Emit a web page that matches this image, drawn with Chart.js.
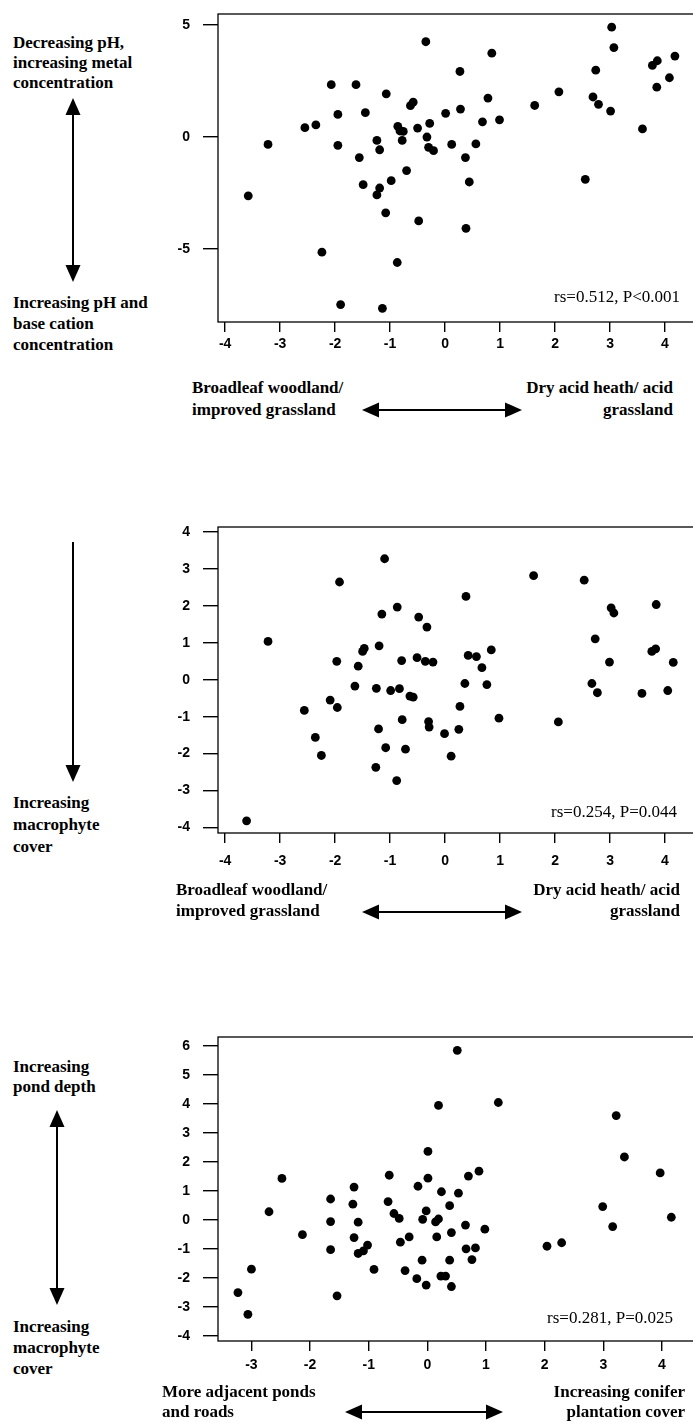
<!DOCTYPE html>
<html>
<head>
<meta charset="utf-8">
<script src="https://cdn.jsdelivr.net/npm/chart.js@4"></script>
<style>
  html, body { margin:0; padding:0; background:#fff; }
  body { width:693px; height:1423px; overflow:hidden; position:relative; }
  canvas { position:absolute; }
  .t { position:absolute; font-family:'Liberation Serif', serif; font-size:17px; line-height:20px; white-space:nowrap; color:#000; font-weight:bold; }
  .s { font-weight:normal; }
  .r { text-align:right; }
  svg { position:absolute; left:0; top:0; }
</style>
</head>
<body>
<script>
// ---------------- DATA ----------------
// Plot 1
const x1 = [-3.58,-3.22,-2.55,-2.35,-2.24,-2.07,-1.95,-1.95,-1.90,-1.62,-1.45,-1.56,-1.49,-1.24,-1.19,-1.19,-1.24,-1.14,-1.07,-1.08,-0.98,-0.86,-0.82,-0.76,-0.78,-0.87,-0.70,-0.63,-0.58,-0.50,-0.48,-0.35,-0.33,-0.28,-0.30,-0.21,0.01,0.12,0.27,0.28,0.37,0.44,0.38,0.56,0.68,0.78,0.85,0.99,1.63,2.07,2.55,2.69,2.74,2.79,3.01,3.03,3.07,3.59,3.77,3.86,3.85,4.08,4.18];
const y1 = [-2.63,-0.33,0.42,0.54,-5.15,2.34,1.01,-0.37,-7.49,2.34,1.09,-0.92,-2.13,-0.15,-0.57,-2.28,-2.59,-7.66,1.93,-3.39,-1.95,0.48,0.27,0.25,-0.15,-5.61,-1.50,1.40,1.56,0.40,-3.75,4.26,0.00,0.61,-0.46,-0.61,1.06,-0.33,2.93,1.25,-0.92,-2.01,-4.08,-0.31,0.68,1.74,3.75,0.77,1.41,2.02,-1.89,1.79,2.99,1.46,1.16,4.91,4.00,0.36,3.20,3.41,2.23,2.65,3.62];
// Plot 2
const x2 = [-3.61,-3.22,-2.56,-2.36,-2.25,-2.09,-1.96,-1.97,-1.92,-1.64,-1.58,-1.50,-1.47,-1.25,-1.21,-1.26,-1.20,-1.15,-1.10,-1.08,-0.99,-0.87,-0.88,-0.83,-0.79,-0.78,-0.72,-0.64,-0.58,-0.51,-0.48,-0.36,-0.33,-0.30,-0.29,-0.22,-0.01,0.11,0.25,0.27,0.36,0.38,0.42,0.57,0.67,0.76,0.84,0.98,1.61,2.06,2.53,2.67,2.73,2.77,2.99,3.02,3.07,3.58,3.76,3.83,3.84,4.05,4.15];
const y2 = [-3.82,1.04,-0.83,-1.56,-2.05,-0.55,-0.75,0.50,2.65,-0.17,0.37,0.77,0.85,-0.23,-1.33,-2.37,0.92,1.78,3.28,-1.84,-0.29,1.97,-2.73,-0.24,0.52,-1.08,-1.88,-0.44,-0.47,0.60,1.70,0.50,1.43,-1.13,-1.28,0.48,-1.46,-2.07,-1.34,-0.72,-0.10,2.26,0.66,0.63,0.33,-0.13,0.81,-1.04,2.82,-1.14,2.70,-0.10,1.11,-0.35,0.48,1.95,1.81,-0.37,0.77,0.84,2.04,-0.29,0.47];
// Plot 3
const x3 = [-3.23,-3.06,-3.00,-2.70,-2.48,-2.13,-1.65,-1.65,-1.65,-1.54,-1.25,-1.27,-1.18,-1.25,-1.18,-1.09,-1.02,-0.91,-0.65,-0.67,-0.57,-0.48,-0.46,-0.38,-0.31,-0.16,-0.18,-0.09,-0.08,-0.02,-0.02,0.01,0.01,0.14,0.19,0.16,0.19,0.24,0.23,0.31,0.38,0.38,0.41,0.41,0.51,0.53,0.65,0.66,0.70,0.76,0.82,0.88,0.98,1.21,2.04,2.29,2.99,3.16,3.22,3.36,3.97,4.16];
const y3 = [-2.51,-3.26,-1.70,0.28,1.43,-0.51,0.72,-0.06,-1.03,-2.62,1.13,0.54,-0.08,-0.61,-1.16,-1.07,-0.87,-1.71,1.54,0.63,0.22,0.05,-0.77,-1.75,-0.59,1.16,-2.03,-1.39,0.02,0.31,-2.25,2.36,1.44,-0.07,0.03,-0.59,3.95,0.97,-1.94,-1.94,0.49,-1.39,-0.44,-2.30,5.85,0.92,-0.18,-1.00,1.51,-1.37,-0.97,1.68,-0.32,4.05,-0.91,-0.79,0.46,-0.23,3.60,2.17,1.62,0.09];

// Tick labels
const xTicks1 = [-4,-3,-2,-1,0,1,2,3,4];
const yTicks1 = [-5,0,5];
const xTicks2 = [-4,-3,-2,-1,0,1,2,3,4];
const yTicks2 = [-4,-3,-2,-1,0,1,2,3,4];
const xTicks3 = [-3,-2,-1,0,1,2,3,4];
const yTicks3 = [-4,-3,-2,-1,0,1,2,3,4,5,6];

// Statistics text
const stats1 = 'rs=0.512, P<0.001';
const stats2 = 'rs=0.254, P=0.044';
const stats3 = 'rs=0.281, P=0.025';

// ---------------- CHARTS ----------------
Chart.defaults.font.family = "'Liberation Sans', Arial, sans-serif";
Chart.defaults.color = '#000';

const framePlugin = {
  id: 'frame',
  afterDraw(chart) {
    const a = chart.chartArea, c = chart.ctx;
    c.save();
    c.strokeStyle = '#000';
    c.lineWidth = 1.3;
    c.strokeRect(a.left, a.top, a.right - a.left, a.bottom - a.top);
    c.restore();
  }
};

const PAD_TOP = 25, PAD_RIGHT = 6, YW = 60, XH = 50;
const AREA_LEFT = 218, AREA_RIGHT = 720;

function makeChart(xs, ys, xTicks, yTicks, lim, frameTop, frameBottom, xPad) {
  const cv = document.createElement('canvas');
  const left = AREA_LEFT - YW;
  const w = AREA_RIGHT - left + PAD_RIGHT;
  const h = PAD_TOP + (frameBottom - frameTop) + XH;
  cv.style.left = left + 'px';
  cv.style.top = (frameTop - PAD_TOP) + 'px';
  cv.style.width = w + 'px';
  cv.style.height = h + 'px';
  cv.width = w; cv.height = h;
  document.body.appendChild(cv);
  const pts = xs.map((x, i) => ({ x: x, y: ys[i] }));
  new Chart(cv, {
    type: 'scatter',
    data: { datasets: [{ data: pts, backgroundColor: '#000', borderWidth: 0, pointRadius: 4.4, pointHoverRadius: 4.4 }] },
    options: {
      responsive: false,
      animation: false,
      events: [],
      devicePixelRatio: 1,
      layout: { autoPadding: false, padding: { top: PAD_TOP, right: PAD_RIGHT, left: 0, bottom: 0 } },
      plugins: { legend: { display: false }, tooltip: { enabled: false } },
      scales: {
        x: {
          type: 'linear', min: lim[0], max: lim[1],
          afterBuildTicks: s => { s.ticks = xTicks.map(v => ({ value: v })); },
          afterFit: s => { s.height = XH; },
          grid: { drawOnChartArea: false, drawTicks: true, tickLength: 10, color: '#000', lineWidth: 1.4 },
          border: { display: false },
          ticks: { padding: xPad, font: { size: 14, weight: 'bold' }, color: '#000', maxRotation: 0, autoSkip: false }
        },
        y: {
          type: 'linear', min: lim[2], max: lim[3],
          afterBuildTicks: s => { s.ticks = yTicks.map(v => ({ value: v })); },
          afterFit: s => { s.width = YW; },
          grid: { drawOnChartArea: false, drawTicks: true, tickLength: 15, color: '#000', lineWidth: 1.4 },
          border: { display: false },
          ticks: { padding: 13, font: { size: 14, weight: 'bold' }, color: '#000', autoSkip: false }
        }
      }
    },
    plugins: [framePlugin]
  });
}

makeChart(x1, y1, xTicks1, yTicks1, [-4.13, 5.0, -8.27, 5.5], 14, 322, 4);
makeChart(x2, y2, xTicks2, yTicks2, [-4.13, 5.0, -4.15, 4.14], 527, 833, 10);
makeChart(x3, y3, xTicks3, yTicks3, [-3.57, 4.99, -4.18, 6.31], 1037, 1341, 6);

// text labels
function addText(txt, x, yCenter, right, stat) {
  const d = document.createElement('div');
  d.className = 't' + (right ? ' r' : '') + (stat ? ' s' : '');
  d.textContent = txt;
  d.style.top = (yCenter - 10) + 'px';
  if (right) d.style.right = (693 - x) + 'px'; else d.style.left = x + 'px';
  document.body.appendChild(d);
}
addText(stats1, 680, 297, true, true);
addText(stats2, 677, 812, true, true);
addText(stats3, 673, 1318, true, true);

// Plot 1 annotations
addText('Decreasing pH,', 13, 43);
addText('increasing metal', 13, 63);
addText('concentration', 13, 83);
addText('Increasing pH and', 13, 303);
addText('base cation', 13, 324);
addText('concentration', 13, 345);
addText('Broadleaf woodland/', 192, 388);
addText('improved grassland', 192, 410);
addText('Dry acid heath/ acid', 673, 388, true);
addText('grassland', 673, 410, true);
// Plot 2 annotations
addText('Increasing', 13, 803);
addText('macrophyte', 13, 825);
addText('cover', 13, 847);
addText('Broadleaf woodland/', 176, 890);
addText('improved grassland', 176, 911);
addText('Dry acid heath/ acid', 680, 890, true);
addText('grassland', 680, 911, true);
// Plot 3 annotations
addText('Increasing', 13, 1067);
addText('pond depth', 13, 1087);
addText('Increasing', 13, 1327);
addText('macrophyte', 13, 1348);
addText('cover', 13, 1369);
addText('More adjacent ponds', 162, 1392);
addText('and roads', 162, 1412);
addText('Increasing conifer', 685, 1392, true);
addText('plantation cover', 685, 1412, true);

// arrows (decoration)
const NS = 'http://www.w3.org/2000/svg';
const svg = document.createElementNS(NS, 'svg');
svg.setAttribute('width', 693); svg.setAttribute('height', 1423);
document.body.appendChild(svg);
function el(tag, attrs) { const e = document.createElementNS(NS, tag); for (const k in attrs) e.setAttribute(k, attrs[k]); svg.appendChild(e); }
const HL = 17, HW = 7.5;
function vArrow(x, y0, y1, upHead, downHead) {
  el('line', { x1: x, y1: upHead ? y0 + HL - 2 : y0, x2: x, y2: downHead ? y1 - HL + 2 : y1, stroke: '#000', 'stroke-width': 2 });
  if (upHead) el('polygon', { points: `${x},${y0} ${x - HW},${y0 + HL} ${x + HW},${y0 + HL}`, fill: '#000' });
  if (downHead) el('polygon', { points: `${x},${y1} ${x - HW},${y1 - HL} ${x + HW},${y1 - HL}`, fill: '#000' });
}
function hArrow(y, x0, x1) {
  el('line', { x1: x0 + HL - 2, y1: y, x2: x1 - HL + 2, y2: y, stroke: '#000', 'stroke-width': 2 });
  el('polygon', { points: `${x0},${y} ${x0 + HL},${y - HW} ${x0 + HL},${y + HW}`, fill: '#000' });
  el('polygon', { points: `${x1},${y} ${x1 - HL},${y - HW} ${x1 - HL},${y + HW}`, fill: '#000' });
}
vArrow(73, 98, 282, true, true);
hArrow(410, 362, 522);
vArrow(73, 542, 782, false, true);
hArrow(912, 362, 522);
vArrow(57, 1110, 1305, true, true);
hArrow(1412, 345, 503);
</script>
</body>
</html>
